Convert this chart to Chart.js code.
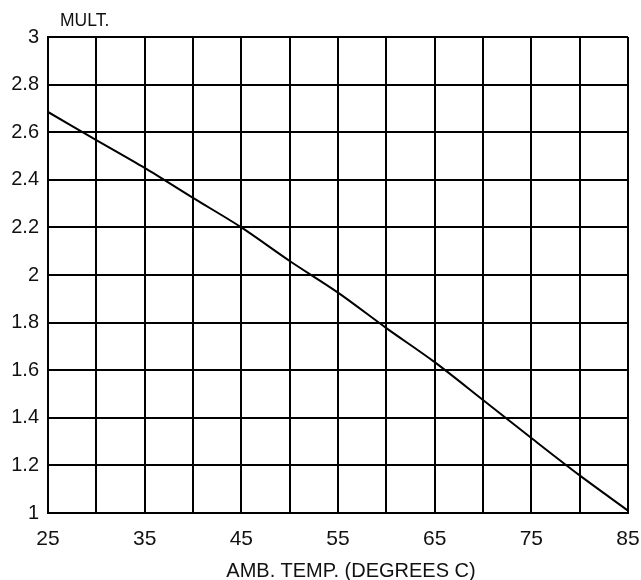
<!DOCTYPE html>
<html>
<head>
<meta charset="utf-8">
<script src="https://cdn.jsdelivr.net/npm/chart.js@4.4.1/dist/chart.umd.min.js"></script>
<style>
  html, body { margin: 0; padding: 0; background: #fff; }
  #wrap { position: relative; width: 641px; height: 580px; }
  #c { position: absolute; left: 0; top: 0; }
  .lab { position: absolute; font-family: "Liberation Sans", Arial, sans-serif; color: #111; white-space: nowrap; line-height: 1; }
  #ylab { left: 60px; top: 12px; font-size: 17.5px; }
  #xlab { left: 351px; top: 560px; font-size: 20px; transform: translateX(-50%); }
</style>
</head>
<body>
<div id="wrap">
  <canvas id="c" width="641" height="580"></canvas>
  <div id="ylab" class="lab">MULT.</div>
  <div id="xlab" class="lab">AMB. TEMP. (DEGREES C)</div>
</div>
<script>
const temps = [25, 30, 35, 40, 45, 50, 55, 60, 65, 70, 75, 80, 85];
const multipliers = [2.685, 2.567, 2.45, 2.324, 2.20, 2.059, 1.926, 1.777, 1.634, 1.475, 1.315, 1.158, 1.01];
const xTickLabels = [25, 35, 45, 55, 65, 75, 85];
const yTickLabels = [1, 1.2, 1.4, 1.6, 1.8, 2, 2.2, 2.4, 2.6, 2.8, 3];

const points = temps.map((t, i) => ({ x: t, y: multipliers[i] }));
const fontFam = '"Liberation Sans", Arial, sans-serif';

new Chart(document.getElementById('c'), {
  type: 'line',
  data: {
    datasets: [{
      data: points,
      borderColor: '#000',
      borderWidth: 2,
      pointRadius: 0,
      tension: 0.3,
      fill: false
    }]
  },
  options: {
    responsive: false,
    animation: false,
    devicePixelRatio: 1,
    layout: { padding: { left: 0, right: 13, top: 37, bottom: 0 } },
    plugins: { legend: { display: false }, tooltip: { enabled: false } },
    scales: {
      x: {
        type: 'linear',
        min: 25, max: 85,
        afterFit: s => { s.height = 67; s.paddingLeft = 0; s.paddingRight = 0; },
        ticks: {
          stepSize: 5,
          autoSkip: false,
          maxRotation: 0,
          padding: 14,
          color: '#111',
          font: { family: fontFam, size: 21 },
          callback: v => xTickLabels.includes(v) ? String(v) : ''
        },
        grid: { color: '#000', lineWidth: 2, drawTicks: false },
        border: { color: '#000', width: 2 }
      },
      y: {
        type: 'linear',
        min: 1, max: 3,
        afterFit: s => { s.width = 48; s.paddingTop = 0; s.paddingBottom = 0; },
        afterBuildTicks: s => { s.ticks = yTickLabels.map(v => ({ value: v })); },
        ticks: {
          padding: 9,
          color: '#111',
          font: { family: fontFam, size: 20 },
          callback: v => String(v)
        },
        grid: { color: '#000', lineWidth: 2, drawTicks: false },
        border: { color: '#000', width: 2 }
      }
    }
  }
});
</script>
</body>
</html>
